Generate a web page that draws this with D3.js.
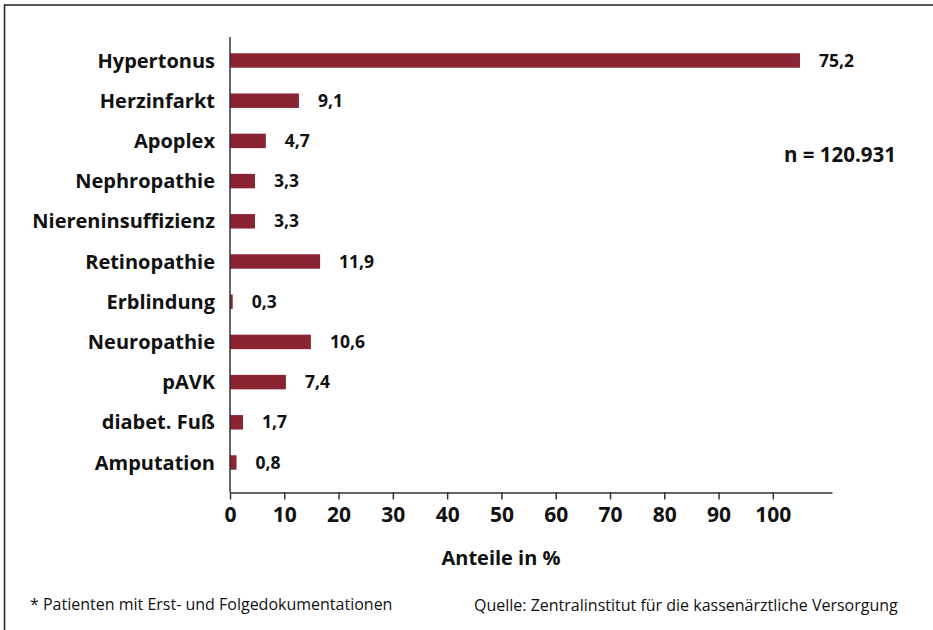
<!DOCTYPE html>
<html>
<head>
<meta charset="utf-8">
<script src="https://cdn.jsdelivr.net/npm/d3@7"></script>
<style>
  body { margin: 0; background: #fff; }
  svg { font-family: "Open Sans", "Noto Sans", sans-serif; }
</style>
</head>
<body>
<div id="chart"></div>
<script>
// Categories, top to bottom
const categories = ['Hypertonus', 'Herzinfarkt', 'Apoplex', 'Nephropathie', 'Niereninsuffizienz',
  'Retinopathie', 'Erblindung', 'Neuropathie', 'pAVK', 'diabet. Fuß', 'Amputation'];
// Printed value labels
const valueLabels = ['75,2', '9,1', '4,7', '3,3', '3,3', '11,9', '0,3', '10,6', '7,4', '1,7', '0,8'];
// Bar lengths as drawn against the axis
const barLengths = [105.0, 12.7, 6.6, 4.6, 4.6, 16.6, 0.5, 14.9, 10.3, 2.4, 1.2];
const xTicks = [0, 10, 20, 30, 40, 50, 60, 70, 80, 90, 100];

const width = 933;
const height = 630;
const barColor = '#8a2433';

const svg = d3.select('#chart')
  .append('svg')
  .attr('width', width)
  .attr('height', height);

// Frame (left and top edges visible)
svg.append('rect')
  .attr('x', 4.5).attr('y', 5)
  .attr('width', 940).attr('height', 640)
  .attr('fill', 'none')
  .attr('stroke', '#222')
  .attr('stroke-width', 1.5);

// Scales
const x = d3.scaleLinear()
  .domain([0, 110.9])
  .range([230, 832]);

const y = d3.scaleBand()
  .domain(categories)
  .range([40.4, 482.6])
  .paddingInner(0.64)
  .paddingOuter(0.32);

// Bars
svg.selectAll('.bar')
  .data(categories)
  .enter()
  .append('rect')
  .attr('class', 'bar')
  .attr('x', x(0))
  .attr('y', (d) => y(d))
  .attr('width', (d, i) => x(barLengths[i]) - x(0))
  .attr('height', y.bandwidth())
  .attr('fill', barColor);

// Value labels
svg.selectAll('.value')
  .data(categories)
  .enter()
  .append('text')
  .attr('class', 'value')
  .attr('x', (d, i) => x(barLengths[i]) + 19)
  .attr('y', (d) => y(d) + y.bandwidth() / 2)
  .attr('dy', '.35em')
  .attr('font-size', 17.5)
  .attr('font-weight', 'bold')
  .attr('fill', '#111')
  .text((d, i) => valueLabels[i]);

// Category labels
svg.selectAll('.cat')
  .data(categories)
  .enter()
  .append('text')
  .attr('class', 'cat')
  .attr('x', 215)
  .attr('y', (d) => y(d) + y.bandwidth() / 2)
  .attr('dy', '.35em')
  .attr('text-anchor', 'end')
  .attr('font-size', 20)
  .attr('font-weight', 'bold')
  .attr('fill', '#111')
  .text((d) => d);

// Y axis line
svg.append('line')
  .attr('x1', x(0)).attr('x2', x(0))
  .attr('y1', 37).attr('y2', 492.5)
  .attr('stroke', '#333')
  .attr('stroke-width', 1.5);

// X axis
const xAxis = svg.append('g')
  .attr('transform', 'translate(0,492.5)')
  .call(d3.axisBottom(x).tickValues(xTicks).tickSize(7).tickSizeOuter(0).tickPadding(8));

xAxis.select('.domain').attr('stroke', '#333').attr('stroke-width', 1.5);
xAxis.selectAll('.tick line').attr('stroke', '#333').attr('stroke-width', 1.5);
xAxis.selectAll('.tick text')
  .attr('font-family', '"Open Sans", "Noto Sans", sans-serif')
  .attr('font-size', 21)
  .attr('font-weight', 'bold')
  .attr('fill', '#111');

// Axis title
svg.append('text')
  .attr('x', 501)
  .attr('y', 565)
  .attr('text-anchor', 'middle')
  .attr('font-size', 20)
  .attr('font-weight', 'bold')
  .attr('fill', '#111')
  .text('Anteile in %');

// n annotation
svg.append('text')
  .attr('x', 784)
  .attr('y', 162)
  .attr('font-size', 20.5)
  .attr('font-weight', 'bold')
  .attr('fill', '#111')
  .text('n = 120.931');

// Footnotes
svg.append('text')
  .attr('x', 30)
  .attr('y', 610)
  .attr('font-size', 16)
  .attr('fill', '#111')
  .text('* Patienten mit Erst- und Folgedokumentationen');

svg.append('text')
  .attr('x', 474)
  .attr('y', 611)
  .attr('font-size', 16)
  .attr('fill', '#111')
  .text('Quelle: Zentralinstitut für die kassenärztliche Versorgung');
</script>
</body>
</html>
